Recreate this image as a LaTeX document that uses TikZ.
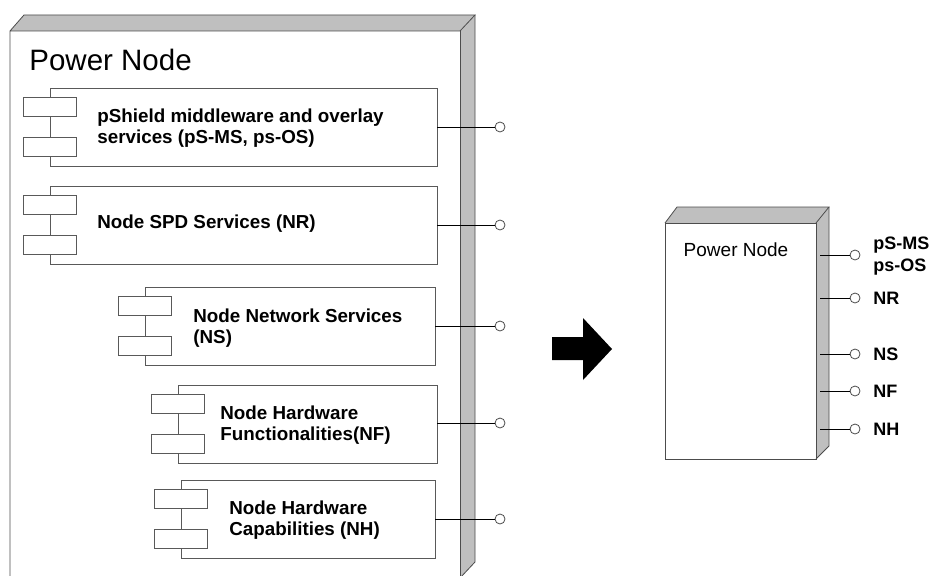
\documentclass[tikz,border=0pt]{standalone}
\usepackage{fontspec}
\setmainfont{Liberation Sans}
\begin{document}
\begin{tikzpicture}
[x=1pt,y=-1pt, line width=.8pt,
c/.style={draw=black!65,fill=white,inner sep=0pt,minimum height=78pt},
r/.style={draw=black!65,fill=white,inner sep=0pt,minimum width=53pt,minimum height=19pt},
t/.style={anchor=west,align=left,inner sep=0pt,font=\fontsize{18.8}{21}\selectfont\bfseries},
o/.style={circle,draw=black!70,fill=white,inner sep=0pt,minimum size=10pt},
l/.style={anchor=west,align=left,inner sep=0pt,font=\fontsize{18}{22}\selectfont\bfseries}]
\useasboundingbox (0,0) rectangle (933,575);
% big power node
\fill[black!25] (10,31)--(24,15)--(475,15)--(460,31)--cycle;
\fill[black!25] (460,31)--(475,15)--(475,562)--(460,578)--cycle;
\draw[black!70] (10,600)--(10,31)--(24,15)--(475,15)--(460,31)--(10,31);
\draw[black!70] (460,600)--(460,31);\draw[black!70] (475,15)--(475,562)--(460,578);
\node[anchor=base west,inner sep=0pt,font=\fontsize{29.5}{30}\selectfont] (pn) at (29,71) {Power Node};
% components
\node(b1) at (243.5,127)[c,minimum width=387pt]{};\node(b2) at (243.5,225)[c,minimum width=387pt]{};
\node(b3) at (290,326)[c,minimum width=290pt]{};\node(b4) at (307.5,424)[c,minimum width=259pt]{};
\node(b5) at (308,519)[c,minimum width=254pt]{};
\foreach \b in {b1,b2,b3,b4,b5}{\node(\b u) at ([yshift=-20pt]\b.west)[r]{};\node(\b d) at ([yshift=20pt]\b.west)[r]{};}
\node(t1) at (97,128)[t]{pShield middleware and overlay\\services (pS-MS, ps-OS)};
\node(t2) at (97,224)[t]{Node SPD Services (NR)};
\node(t3) at (193,328)[t]{Node Network Services\\(NS)};
\node(t4) at (220,425)[t]{Node Hardware\\Functionalities(NF)};
\node(t5) at (229,520)[t]{Node Hardware\\Capabilities (NH)};
\node(o1) at (500,127)[o]{};\node(o2) at (500,225)[o]{};\node(o3) at (500,326)[o]{};
\node(o4) at (500,423)[o]{};\node(o5) at (500,519)[o]{};
\draw(b1.east)--(o1);\draw(b2.east)--(o2);\draw(b3.east)--(o3);\draw(b4.east |- o4)--(o4);\draw(b5.east)--(o5);
% arrow
\fill (552,337)--(583,337)--(583,318)--(612,349)--(583,380)--(583,360)--(552,360)--cycle;
% small power node
\fill[black!25] (665,223)--(677,207)--(829,207)--(816,223)--cycle;
\fill[black!25] (816,223)--(829,207)--(829,446)--(816,459)--cycle;
\draw[black!70] (665,223) rectangle (816,459);
\draw[black!70] (665,223)--(677,207)--(829,207)--(816,223);\draw[black!70] (829,207)--(829,446)--(816,459);
\node[anchor=base,inner sep=0pt,font=\fontsize{19}{19}\selectfont] (sp) at (736,256) {Power Node};
\foreach \n/\y in {1/255,2/298,3/354,4/391,5/429}{\coordinate(p\n) at (820,\y);\node(q\n) at (855,\y)[o]{};\draw(p\n)--(q\n);}
\node(l1) at (873,256)[l]{pS-MS\\ps-OS};
\node(l2) at (873,298)[l]{NR};\node(l3) at (873,354)[l]{NS};
\node(l4) at (873,391)[l]{NF};\node(l5) at (873,429)[l]{NH};
\end{tikzpicture}
\end{document}
